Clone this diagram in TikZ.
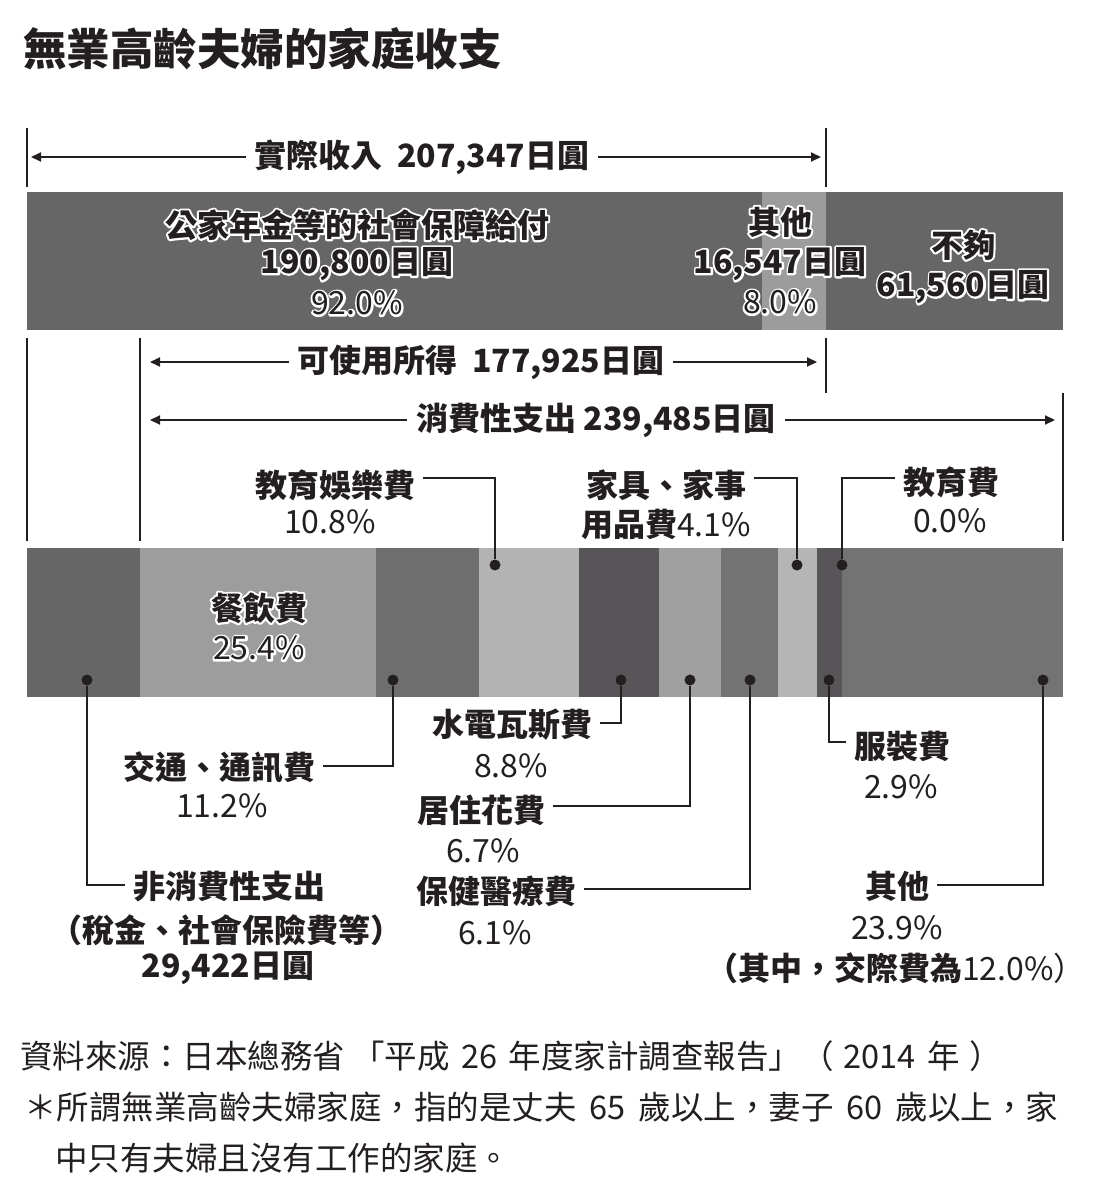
\documentclass[tikz,border=0pt]{standalone}
\usepackage{fontspec}
\setmainfont{Noto Sans CJK TC}
\usetikzlibrary{arrows.meta}
\definecolor{ink}{HTML}{231F20}
\definecolor{gA}{HTML}{666666}
\definecolor{gB}{HTML}{9C9C9C}
\definecolor{s1}{HTML}{666666}
\definecolor{s2}{HTML}{9D9D9D}
\definecolor{s3}{HTML}{6E6E6E}
\definecolor{s4}{HTML}{B3B3B3}
\definecolor{s5}{HTML}{575557}
\definecolor{s6}{HTML}{A0A0A0}
\definecolor{s7}{HTML}{737373}
\definecolor{s8}{HTML}{B5B5B5}
\definecolor{s9}{HTML}{575557}
\definecolor{s10}{HTML}{737373}
% white-outlined text: a stroked (render mode 1) white copy, then the filled text
\newcommand{\ow}[1]{\leavevmode\rlap{\special{pdf:literal direct q 1 Tr 4 w 1 j 1 1 1 RG}#1\special{pdf:literal direct Q}}#1}
\begin{document}
\begin{tikzpicture}[x=1pt,y=-1pt,
  txt/.style={inner sep=0pt, text=ink, font=\fontsize{32}{38}\selectfont},
  bld/.style={inner sep=0pt, text=ink, font=\fontsize{32}{38}\selectfont\bfseries},
  dimlbl/.style={bld, inner xsep=9pt},
  dimarr/.style={draw=ink, line width=2pt, -{Triangle[length=10pt,width=9pt]}},
  tick/.style={draw=ink, line width=1.6pt},
  conn/.style={draw=ink, line width=2.5pt},
  dotn/.style={circle, fill=ink, inner sep=0pt, minimum size=11pt},
  lbl/.style={bld, inner xsep=8pt},
  src/.style={txt, anchor=west, font=\fontsize{32.5}{38}\selectfont}
]
\useasboundingbox (0,0) rectangle (1099,1201);

% title
\node[anchor=west, inner sep=0pt, text=ink, font=\fontsize{43.5}{50}\selectfont\bfseries] (title) at (23,49) {無業高齡夫婦的家庭收支};

% ---- income dimension line
\coordinate (k1a) at (27,128); \coordinate (k1b) at (27,187);
\coordinate (k2a) at (826,128); \coordinate (k2b) at (826,187);
\draw[tick] (k1a) -- (k1b);
\draw[tick] (k2a) -- (k2b);
\node[dimlbl] (inc) at (422,157) {實際收入\hspace{.45em}207,347日圓};
\coordinate (incL) at (31,157); \coordinate (incR) at (821,157);
\draw[dimarr] (inc.west) -- (incL);
\draw[dimarr] (inc.east) -- (incR);

% ---- top bar
\fill[gA] (27,192) rectangle (762,330);
\fill[gB] (762,192) rectangle (826,330);
\fill[gA] (826,192) rectangle (1063,330);
\node[bld] (pen1) at (357,225) {\ow{公家年金等的社會保障給付}};
\node[bld] (pen2) at (357,264) {\ow{190,800日圓}};
\node[txt] (pen3) at (357,303) {\ow{92.0\%}};
\node[bld] (oth1) at (780,222) {\ow{其他}};
\node[bld] (oth2) at (780,264) {\ow{16,547日圓}};
\node[txt] (oth3) at (780,302) {\ow{8.0\%}};
\node[bld] (lack1) at (963,245) {\ow{不夠}};
\node[bld] (lack2) at (963,287) {\ow{61,560日圓}};

% ---- lower ticks
\coordinate (v1a) at (27,338);  \coordinate (v1b) at (27,541);
\coordinate (v2a) at (140,338); \coordinate (v2b) at (140,541);
\coordinate (v3a) at (826,338); \coordinate (v3b) at (826,393);
\coordinate (v4a) at (1063,393); \coordinate (v4b) at (1063,541);
\draw[tick] (v1a) -- (v1b);
\draw[tick] (v2a) -- (v2b);
\draw[tick] (v3a) -- (v3b);
\draw[tick] (v4a) -- (v4b);

% disposable income
\node[dimlbl] (disp) at (481,362) {可使用所得\hspace{.45em}177,925日圓};
\coordinate (dispL) at (150,362); \coordinate (dispR) at (817,362);
\draw[dimarr] (disp.west) -- (dispL);
\draw[dimarr] (disp.east) -- (dispR);

% consumption
\node[dimlbl] (cons) at (596,420) {消費性支出 239,485日圓};
\coordinate (consL) at (150,420); \coordinate (consR) at (1055,420);
\draw[dimarr] (cons.west) -- (consL);
\draw[dimarr] (cons.east) -- (consR);

% ---- bottom bar
\fill[s1] (27,548) rectangle (140,697);
\fill[s2] (140,548) rectangle (376,697);
\fill[s3] (376,548) rectangle (479,697);
\fill[s4] (479,548) rectangle (579,697);
\fill[s5] (579,548) rectangle (659,697);
\fill[s6] (659,548) rectangle (721,697);
\fill[s7] (721,548) rectangle (778,697);
\fill[s8] (778,548) rectangle (817,697);
\fill[s9] (817,548) rectangle (842,697);
\fill[s10] (842,548) rectangle (1063,697);
\node[bld] (food1) at (259,608) {\ow{餐飲費}};
\node[txt] (food2) at (259,648) {\ow{25.4\%}};

% ---- dots
\node[dotn] (dEnt) at (495,565) {};
\node[dotn] (dFur) at (797,565) {};
\node[dotn] (dEdu) at (842,565) {};
\node[dotn] (dNon) at (87,680) {};
\node[dotn] (dTra) at (393,680) {};
\node[dotn] (dUti) at (621,680) {};
\node[dotn] (dHou) at (690,680) {};
\node[dotn] (dHea) at (750,680) {};
\node[dotn] (dClo) at (829,680) {};
\node[dotn] (dOth) at (1043,680) {};

% ---- labels above bar
\node[lbl] (ent1) at (335,485) {教育娛樂費};
\node[txt] (ent2) at (330,522) {10.8\%};
\node[lbl] (fur1) at (666,485) {家具、家事};
\node[txt] (fur2) at (666,524) {{\bfseries 用品費}4.1\%};
\node[lbl] (edu1) at (951,482) {教育費};
\node[txt] (edu2) at (950,521) {0.0\%};

\coordinate (cEnt) at (495,478);
\coordinate (cFur) at (797,478);
\coordinate (cEdu) at (842,478);
\draw[conn] (ent1.east |- cEnt) -- (cEnt) -- (dEnt);
\draw[conn] (fur1.east |- cFur) -- (cFur) -- (dFur);
\draw[conn] (edu1.west |- cEdu) -- (cEdu) -- (dEdu);

% ---- labels below bar
\node[lbl] (tra1) at (219,767) {交通、通訊費};
\node[txt] (tra2) at (222,806) {11.2\%};
\node[lbl] (non1) at (229,887) {非消費性支出};
\node[bld] (non2) at (226,930) {（稅金、社會保險費等）};
\node[bld] (non3) at (228,968) {29,422日圓};
\node[lbl] (uti1) at (512,725) {水電瓦斯費};
\node[txt] (uti2) at (511,766) {8.8\%};
\node[lbl] (hou1) at (481,810) {居住花費};
\node[txt] (hou2) at (483,851) {6.7\%};
\node[lbl] (hea1) at (496,891) {保健醫療費};
\node[txt] (hea2) at (495,933) {6.1\%};
\node[lbl] (clo1) at (902,746) {服裝費};
\node[txt] (clo2) at (901,787) {2.9\%};
\node[lbl] (oth1b) at (897,886) {其他};
\node[txt] (oth2b) at (897,928) {23.9\%};
\node[txt] (oth3b) at (896,968) {{\bfseries （其中，交際費為}12.0\%）};

\coordinate (cTra) at (393,766);
\coordinate (cNon) at (87,885);
\coordinate (cUti) at (621,723);
\coordinate (cHou) at (690,806);
\coordinate (cHea) at (750,889);
\coordinate (cClo) at (829,742);
\coordinate (cOth) at (1043,885);
\draw[conn] (tra1.east |- cTra) -- (cTra) -- (dTra);
\draw[conn] (non1.west |- cNon) -- (cNon) -- (dNon);
\draw[conn] (uti1.east |- cUti) -- (cUti) -- (dUti);
\draw[conn] (hou1.east |- cHou) -- (cHou) -- (dHou);
\draw[conn] (hea1.east |- cHea) -- (cHea) -- (dHea);
\draw[conn] (clo1.west |- cClo) -- (cClo) -- (dClo);
\draw[conn] (oth1b.east |- cOth) -- (cOth) -- (dOth);

% ---- source notes
\node[src] (srcA) at (20,1056) {資料來源：日本總務省 「平成\hspace{.35em}26\hspace{.35em}年度家計調查報告」（\hspace{.3em}2014\hspace{.35em}年\hspace{.3em}）};
\node[src] (srcB) at (24,1107) {＊所謂無業高齡夫婦家庭，指的是丈夫\hspace{.4em}65\hspace{.4em}歲以上，妻子\hspace{.4em}60\hspace{.4em}歲以上，家};
\node[src] (srcC) at (55,1158) {中只有夫婦且沒有工作的家庭。};
\end{tikzpicture}
\end{document}
